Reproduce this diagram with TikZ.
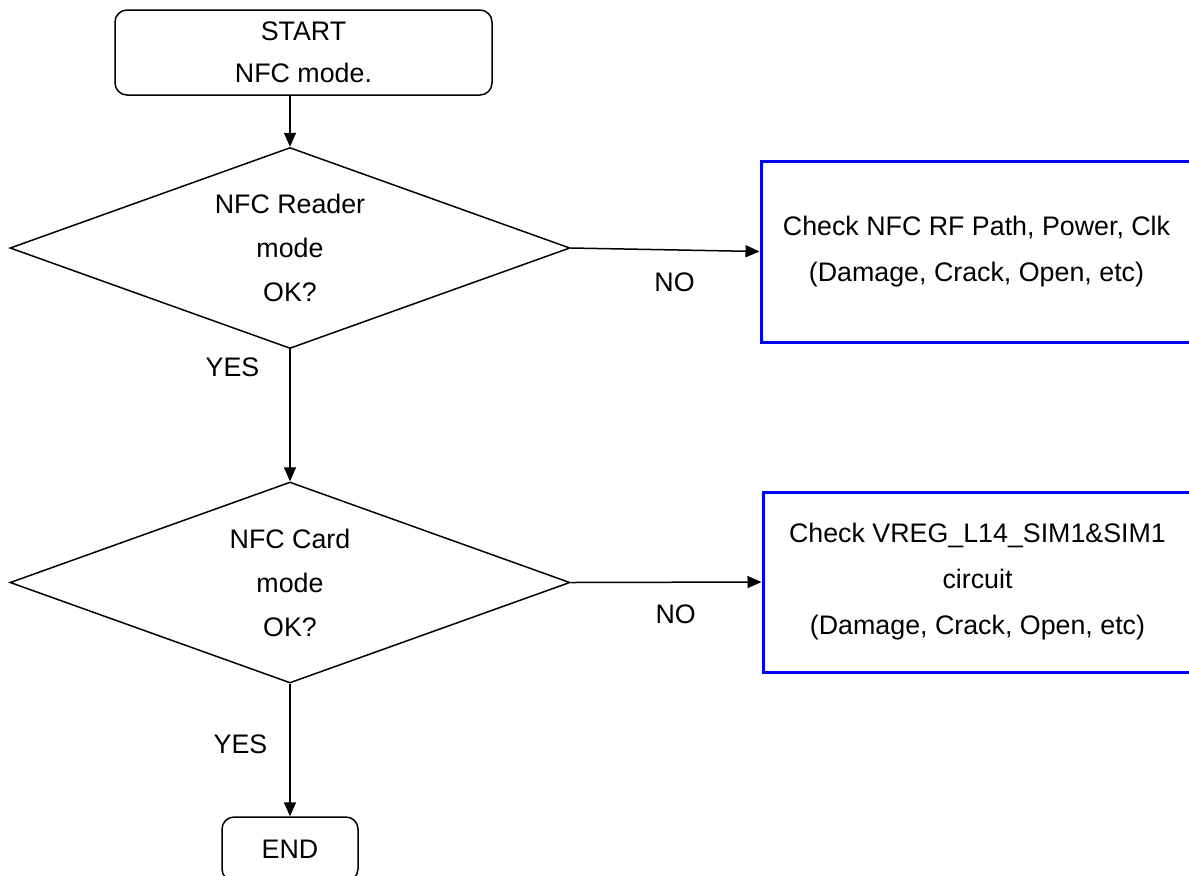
\documentclass[tikz,border=0pt]{standalone}
\usepackage{fontspec}
\setmainfont{Liberation Sans}
\usetikzlibrary{arrows.meta,positioning,shapes.geometric}
\tikzset{
  termbox/.style={draw, rounded corners=6pt, align=center, line width=0.75pt,
                  inner sep=0pt, font=\fontsize{13.4}{21}\selectfont},
  decbox/.style ={draw, diamond, aspect=2.8, inner sep=0pt, align=center,
                  minimum width=280pt, minimum height=100.5pt,
                  line width=0.75pt, font=\fontsize{13.4}{22}\selectfont},
  chkbox/.style ={draw=blue, line width=1.5pt, align=center, inner sep=0pt,
                  font=\fontsize{13.4}{23}\selectfont},
  lbl/.style    ={inner sep=0pt, font=\fontsize{13.4}{15}\selectfont},
  arr/.style    ={-{Triangle[length=7pt,width=6pt]}, line width=0.75pt},
}

\begin{document}
\begin{tikzpicture}[x=0.5pt, y=-0.5pt]
  \useasboundingbox (0,0) rectangle (1189,875);

  \node[termbox, minimum width=188.5pt, minimum height=42.5pt]
        (start) at (303.5,52.5) {START\\NFC mode.};
  \node[decbox] (rdmode) at (290,248) {NFC Reader\\mode\\OK?};
  \node[decbox] (cdmode) at (290,582.5) {NFC Card\\mode\\OK?};

  \node[chkbox, minimum width=215.5pt, minimum height=90.5pt]
        (chkrf) at (976.5,251.5)
        {Check NFC RF Path, Power, Clk\\(Damage, Crack, Open, etc)};
  \node[chkbox, minimum width=214.5pt, minimum height=90pt]
        (chksim) at (977.5,582)
        {Check VREG\_L14\_SIM1\&SIM1\\circuit\\(Damage, Crack, Open, etc)};

  \node[termbox, minimum width=68pt, minimum height=32pt]
        (end) at (290,849) {END};

  \draw[arr] (start.south -| rdmode.north) -- (rdmode.north);
  \draw[arr] (rdmode.east) -- node[lbl, below=11pt, pos=0.55] {NO} (chkrf.west);
  \draw[arr] (rdmode.south) -- node[lbl, left=15pt, pos=0.14] {YES} (cdmode.north);
  \draw[arr] (cdmode.east) -- node[lbl, below=11pt, pos=0.55] {NO} (chksim.west);
  \draw[arr] (cdmode.south) -- node[lbl, left=11pt, pos=0.46] {YES} (end.north);
\end{tikzpicture}
\end{document}
